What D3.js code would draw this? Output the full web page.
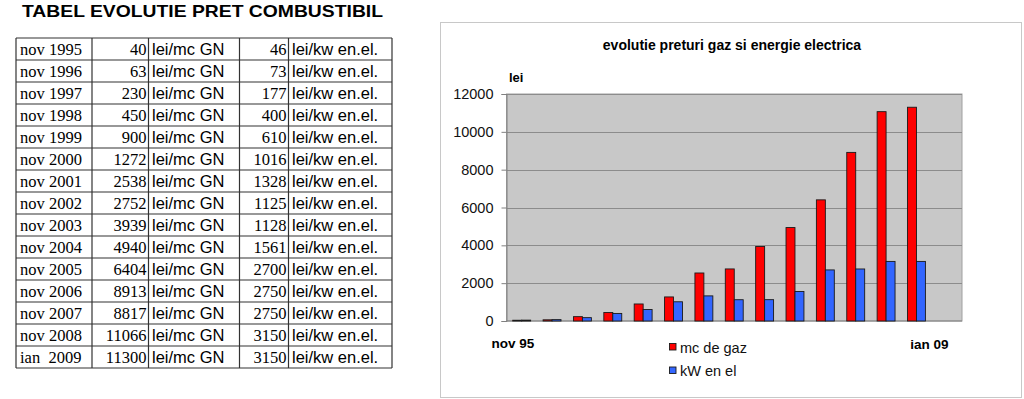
<!DOCTYPE html>
<html>
<head>
<meta charset="utf-8">
<script src="https://cdn.jsdelivr.net/npm/d3@7"></script>
<style>
  body { margin: 0; background: #fff; }
  svg { display: block; }
  text { white-space: pre; }
</style>
</head>
<body>
<div id="chart-container"></div>
<script>
// Table data
const tableDates = ["nov 1995", "nov 1996", "nov 1997", "nov 1998", "nov 1999", "nov 2000", "nov 2001", "nov 2002",
  "nov 2003", "nov 2004", "nov 2005", "nov 2006", "nov 2007", "nov 2008", "ian  2009"];
const gasPrices = [40, 63, 230, 450, 900, 1272, 2538, 2752, 3939, 4940, 6404, 8913, 8817, 11066, 11300];
const elPrices = [46, 73, 177, 400, 610, 1016, 1328, 1125, 1128, 1561, 2700, 2750, 2750, 3150, 3150];
const gasUnit = "lei/mc GN";
const elUnit = "lei/kw en.el.";

// Chart data (the chart leaves out nov 2007 and keeps an empty last slot)
const chartCategories = ["nov 95", "nov 96", "nov 97", "nov 98", "nov 99", "nov 00", "nov 01", "nov 02",
  "nov 03", "nov 04", "nov 05", "nov 06", "nov 08", "ian 09", ""];
const chartGas = [40, 63, 230, 450, 900, 1272, 2538, 2752, 3939, 4940, 6404, 8913, 11066, 11300];
const chartEl = [46, 73, 177, 400, 610, 1016, 1328, 1125, 1128, 1561, 2700, 2750, 3150, 3150];
const seriesNames = ["mc de gaz", "kW en el"];
const seriesColors = ["#ff0000", "#3366ff"];
const yTicks = [0, 2000, 4000, 6000, 8000, 10000, 12000];

const svg = d3.select("#chart-container")
  .append("svg")
  .attr("width", 1024)
  .attr("height", 399);

// ---- Table ----
const sans = "Liberation Sans, Arial, sans-serif";
const serif = "Liberation Serif, Times New Roman, serif";

svg.append("text")
  .attr("x", 22)
  .attr("y", 17)
  .attr("font-family", sans)
  .attr("font-weight", "bold")
  .attr("font-size", 16.5)
  .attr("textLength", 361)
  .attr("lengthAdjust", "spacingAndGlyphs")
  .text("TABEL EVOLUTIE PRET COMBUSTIBIL");

const tableTop = 38, rowH = 22;
const colX = [16, 92, 148.5, 239.5, 288.5, 392];
const tbl = svg.append("g");

const rows = tbl.selectAll("g.row")
  .data(tableDates.map((d, i) => ({date: d, gas: gasPrices[i], el: elPrices[i]})))
  .join("g")
  .attr("class", "row")
  .attr("transform", (d, i) => `translate(0,${tableTop + i * rowH})`);

rows.append("text")
  .attr("x", colX[0] + 4).attr("y", 17)
  .attr("font-family", serif).attr("font-size", 16.5)
  .text(d => d.date);
rows.append("text")
  .attr("x", colX[2] - 2).attr("y", 17)
  .attr("text-anchor", "end")
  .attr("font-family", serif).attr("font-size", 16.5)
  .text(d => d.gas);
rows.append("text")
  .attr("x", colX[2] + 3.5).attr("y", 17)
  .attr("font-family", sans).attr("font-size", 16.5)
  .text(gasUnit);
rows.append("text")
  .attr("x", colX[4] - 2).attr("y", 17)
  .attr("text-anchor", "end")
  .attr("font-family", serif).attr("font-size", 16.5)
  .text(d => d.el);
rows.append("text")
  .attr("x", colX[4] + 3.5).attr("y", 17)
  .attr("font-family", sans).attr("font-size", 16.5)
  .text(elUnit);

// grid lines of the table
const tableBottom = tableTop + tableDates.length * rowH;
tbl.selectAll("line.h")
  .data(d3.range(tableDates.length + 1))
  .join("line")
  .attr("x1", colX[0]).attr("x2", colX[5])
  .attr("y1", i => tableTop + i * rowH).attr("y2", i => tableTop + i * rowH)
  .attr("stroke", "#333").attr("stroke-width", 1.2);
tbl.selectAll("line.v")
  .data(colX)
  .join("line")
  .attr("x1", d => d).attr("x2", d => d)
  .attr("y1", tableTop).attr("y2", tableBottom)
  .attr("stroke", "#333").attr("stroke-width", 1.2);

// ---- Chart ----
svg.append("rect")
  .attr("x", 440.5).attr("y", 22.5)
  .attr("width", 581).attr("height", 375)
  .attr("fill", "#fff")
  .attr("stroke", "#c8c8c8");

svg.append("text")
  .attr("x", 732).attr("y", 50)
  .attr("text-anchor", "middle")
  .attr("font-family", sans).attr("font-weight", "bold").attr("font-size", 14)
  .text("evolutie preturi gaz si energie electrica");

const plot = {left: 506.5, right: 962, top: 94, bottom: 321};

const x = d3.scaleBand()
  .domain(chartCategories.map((d, i) => i))
  .range([plot.left, plot.right])
  .padding(0);

const xSub = d3.scaleBand()
  .domain([0, 1])
  .range([x.bandwidth() * 0.205, x.bandwidth() * 0.795]);

const y = d3.scaleLinear()
  .domain([0, 12000])
  .range([plot.bottom, plot.top]);

svg.append("rect")
  .attr("x", plot.left).attr("y", plot.top)
  .attr("width", plot.right - plot.left).attr("height", plot.bottom - plot.top)
  .attr("fill", "#c8c8c8")
  .attr("stroke", "#a0a0a0");

// gridlines
svg.append("g")
  .selectAll("line")
  .data(yTicks.slice(1))
  .join("line")
  .attr("x1", plot.left).attr("x2", plot.right)
  .attr("y1", d => Math.round(y(d)) + 0.5).attr("y2", d => Math.round(y(d)) + 0.5)
  .attr("stroke", "#8c8c8c");

// y axis
const yAxis = svg.append("g")
  .attr("transform", `translate(${plot.left},0)`)
  .call(d3.axisLeft(y).tickValues(yTicks).tickSize(5).tickPadding(8).tickFormat(d3.format("d")));
yAxis.select(".domain").attr("stroke", "#808080");
yAxis.selectAll(".tick line").attr("stroke", "#808080");
yAxis.selectAll(".tick text")
  .attr("font-family", sans).attr("font-size", 14.5).attr("fill", "#111");

// x axis baseline
svg.append("line")
  .attr("x1", plot.left).attr("x2", plot.right)
  .attr("y1", y(0)).attr("y2", y(0))
  .attr("stroke", "#808080");

// bars
const groups = svg.append("g")
  .selectAll("g")
  .data(chartGas.map((g, i) => ({i: i, values: [g, chartEl[i]]})))
  .join("g")
  .attr("transform", d => `translate(${x(d.i)},0)`);

groups.selectAll("rect")
  .data(d => d.values.map((v, s) => ({s: s, v: v})))
  .join("rect")
  .attr("x", d => xSub(d.s))
  .attr("width", xSub.bandwidth())
  .attr("y", d => y(d.v))
  .attr("height", d => y(0) - y(d.v))
  .attr("fill", d => seriesColors[d.s])
  .attr("stroke", "#1a1a1a")
  .attr("stroke-width", 0.9);

// unit label
svg.append("text")
  .attr("x", 509).attr("y", 82)
  .attr("font-family", sans).attr("font-weight", "bold").attr("font-size", 13)
  .text("lei");

// first / last category labels
svg.append("text")
  .attr("x", 513).attr("y", 348)
  .attr("text-anchor", "middle")
  .attr("font-family", sans).attr("font-weight", "bold").attr("font-size", 13.5)
  .text(chartCategories[0]);
svg.append("text")
  .attr("x", 929.5).attr("y", 349)
  .attr("text-anchor", "middle")
  .attr("font-family", sans).attr("font-weight", "bold").attr("font-size", 13.5)
  .text(chartCategories[chartGas.length - 1]);

// legend
const legend = svg.selectAll(".legend")
  .data(seriesNames)
  .join("g")
  .attr("class", "legend")
  .attr("transform", (d, i) => `translate(669,${343 + i * 23.5})`);

legend.append("rect")
  .attr("x", 0.5).attr("y", 0.5)
  .attr("width", 6.5).attr("height", 6.5)
  .attr("fill", (d, i) => seriesColors[i])
  .attr("stroke", "#1a1a1a").attr("stroke-width", 0.9);

legend.append("text")
  .attr("x", 11).attr("y", 9.5)
  .attr("font-family", sans).attr("font-size", 14.5)
  .attr("fill", "#111")
  .text(d => d);
</script>
</body>
</html>
